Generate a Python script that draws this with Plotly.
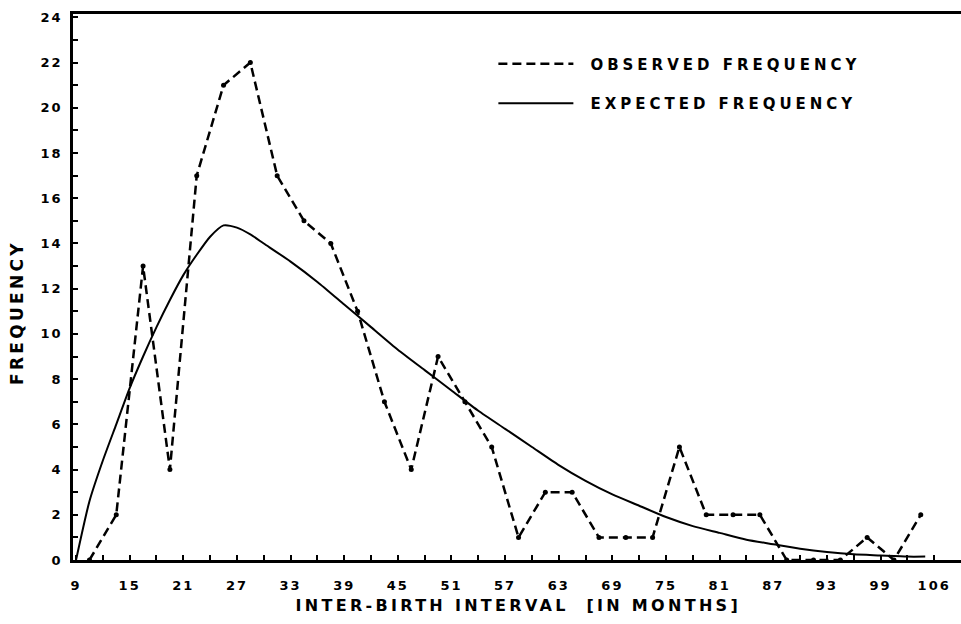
import plotly.graph_objects as go

# Observed frequency (midpoints of 3-month classes)
obs_months = [10.5, 13.5, 16.5, 19.5, 22.5, 25.5, 28.5, 31.5, 34.5, 37.5, 40.5,
              43.5, 46.5, 49.5, 52.5, 55.5, 58.5, 61.5, 64.5, 67.5, 70.5, 73.5,
              76.5, 79.5, 82.5, 85.5, 88.5, 91.5, 94.5, 97.5, 100.5, 103.5]
obs_freq = [0, 2, 13, 4, 17, 21, 22, 17, 15, 14, 11,
            7, 4, 9, 7, 5, 1, 3, 3, 1, 1, 1,
            5, 2, 2, 2, 0, 0, 0, 1, 0, 2]

# Expected frequency
exp_months = [9, 10.5, 12, 13.5, 15, 16.5, 18, 19.5, 21, 22.5, 24, 25.5, 27,
              28.5, 30, 33, 36, 39, 42, 45, 48, 51, 54, 57, 60, 63, 66, 69,
              72, 75, 78, 81, 84, 87, 90, 93, 96, 99, 102, 104]
exp_freq = [0, 2.6, 4.4, 6.0, 7.6, 9.0, 10.3, 11.5, 12.6, 13.5, 14.3, 14.8, 14.7,
            14.4, 14.0, 13.2, 12.3, 11.3, 10.3, 9.3, 8.4, 7.5, 6.6, 5.8, 5.0, 4.2, 3.5, 2.9,
            2.4, 1.9, 1.5, 1.2, 0.9, 0.7, 0.5, 0.35, 0.25, 0.2, 0.15, 0.15]

x_tick_vals = [9, 12, 15, 18, 21, 24, 27, 30, 33, 36, 39, 42, 45, 48, 51, 54, 57,
               60, 63, 66, 69, 72, 75, 78, 81, 84, 87, 90, 93, 96, 99, 102, 105]
x_tick_text = ["9", "", "15", "", "21", "", "27", "", "33", "", "39", "", "45", "",
               "51", "", "57", "", "63", "", "69", "", "75", "", "81", "", "87", "",
               "93", "", "99", "", "106"]
y_tick_vals = [0, 1, 2, 3, 4, 5, 6, 7, 8, 9, 10, 11, 12, 13, 14, 15, 16, 17, 18,
               19, 20, 21, 22, 23, 24]
y_tick_text = ["0", "", "2", "", "4", "", "6", "", "8", "", "10", "", "12", "",
               "14", "", "16", "", "18", "", "20", "", "22", "", "24"]

FONT = "DejaVu Sans"

fig = go.Figure()
fig.add_trace(go.Scatter(
    x=obs_months, y=obs_freq, mode="lines", name="OBSERVED FREQUENCY",
    legendgroup="obs",
    line=dict(color="black", width=2.5, dash="9px,5px"),
    cliponaxis=False,
))
fig.add_trace(go.Scatter(
    x=obs_months, y=obs_freq, mode="markers", showlegend=False,
    marker=dict(color="black", size=5), cliponaxis=False,
))
fig.add_trace(go.Scatter(
    x=exp_months, y=exp_freq, mode="lines", name="EXPECTED FREQUENCY",
    legendgroup="exp",
    line=dict(color="black", width=2, shape="spline", smoothing=0.6),
    cliponaxis=False,
))

fig.update_layout(
    width=961, height=624,
    margin=dict(l=73, r=0, t=14, b=64),
    paper_bgcolor="white", plot_bgcolor="white",
    font=dict(family=FONT, color="black", size=13, weight="bold"),
    showlegend=True,
    legend=dict(
        x=0.4734, y=0.9387, xanchor="left", yanchor="top",
        bgcolor="rgba(0,0,0,0)", borderwidth=0,
        itemwidth=75, traceorder="grouped", tracegroupgap=17,
        entrywidth=400,
        font=dict(family=FONT, size=15, color="black", weight="bold"),
    ),
    xaxis=dict(
        range=[8.66, 108.0], tickmode="array", tickvals=x_tick_vals, ticktext=x_tick_text,
        ticks="inside", ticklen=5, tickwidth=2, tickcolor="black",
        showline=True, linewidth=2.5, linecolor="black", mirror=True,
        showgrid=False, zeroline=False, ticklabelstandoff=12,
        tickfont=dict(family=FONT, size=13, color="black", weight="bold"),
    ),
    yaxis=dict(
        range=[0, 24.15], tickmode="array", tickvals=y_tick_vals, ticktext=y_tick_text,
        ticks="inside", ticklen=5, tickwidth=2, tickcolor="black",
        showline=True, linewidth=2.5, linecolor="black", mirror=False,
        showgrid=False, zeroline=False, ticklabelstandoff=5,
        tickfont=dict(family=FONT, size=13, color="black", weight="bold"),
    ),
    annotations=[
        dict(text="INTER-BIRTH INTERVAL  [IN MONTHS]", xref="paper", yref="paper",
             x=0.502, y=-0.084, xanchor="center", yanchor="middle", showarrow=False,
             font=dict(family=FONT, size=16, color="black", weight="bold")),
        dict(text="FREQUENCY", xref="paper", yref="paper", textangle=-90,
             x=-0.063, y=0.454, xanchor="center", yanchor="middle", showarrow=False,
             font=dict(family=FONT, size=17, color="black", weight="bold")),
    ],
)

post = """
document.body.style.margin = '0';
document.body.style.padding = '0';
var gd = document.getElementById('{plot_id}');
function sp(sel, v){ gd.querySelectorAll(sel).forEach(function(e){ e.style.letterSpacing = v; }); }
sp('.legendtext', '4px');
sp('.xtick text', '2px');
sp('.ytick text', '2px');
sp('.annotation-text', '3.3px');
gd.querySelectorAll('.legend .scrollbox').forEach(function(e){ e.removeAttribute('clip-path'); });
gd.querySelectorAll('.legend').forEach(function(e){ e.removeAttribute('clip-path'); });
gd.querySelectorAll('.legendtext').forEach(function(e){
  var x = parseFloat(e.getAttribute('x') || '0');
  e.setAttribute('x', x + 12);
});
"""

fig.write_html("out.html", post_script=post, config={"displayModeBar": False})
